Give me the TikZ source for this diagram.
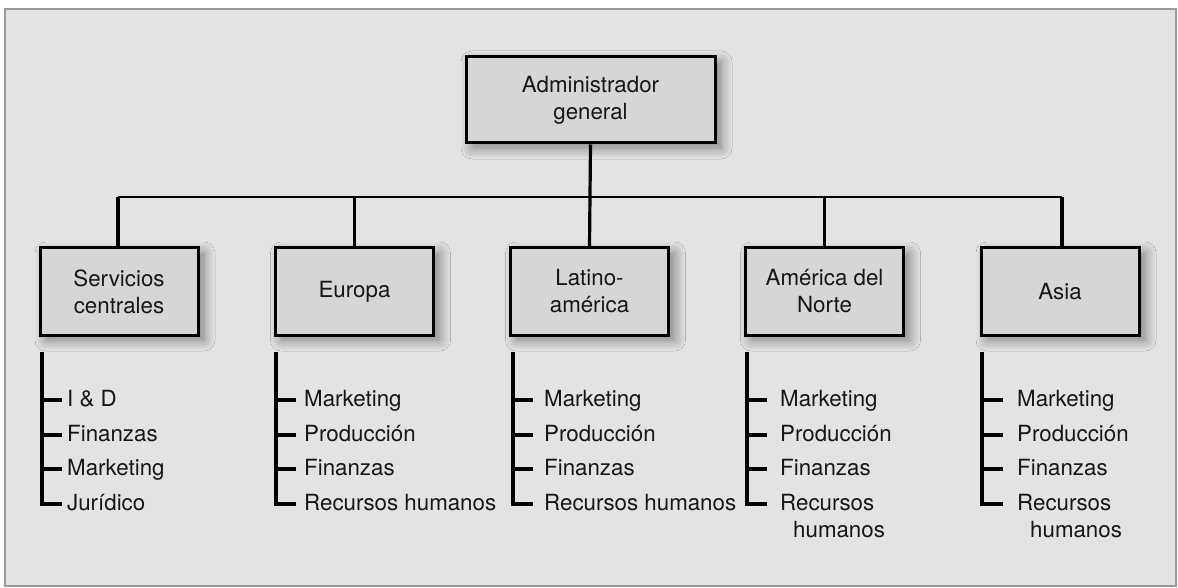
\documentclass[tikz,border=0pt]{standalone}
\usepackage{fontspec}
\setmainfont{TeX Gyre Heros}
\usetikzlibrary{shadows.blur}
\definecolor{bggray}{HTML}{E3E3E3}
\definecolor{framegray}{HTML}{9A9A9A}
\definecolor{boxfill}{HTML}{D6D6D6}
\definecolor{ink}{HTML}{161616}
\tikzset{
  box/.style={draw=black, line width=3pt, fill=boxfill, text=ink,
    minimum width=158pt, minimum height=87pt, align=center, inner sep=0pt,
    font=\fontsize{22.3}{27}\selectfont,
    blur shadow={shadow xshift=6pt, shadow yshift=-5pt, shadow blur radius=11pt, shadow blur steps=12, shadow opacity=45}},
  item/.style={anchor=base west, inner sep=0pt, text=ink, font=\fontsize{22.3}{27}\selectfont},
  drop/.style={draw=black, line width=3.2pt},
  bus/.style={draw=black, line width=2.4pt},
  lst/.style={draw=black, line width=3.2pt, line cap=butt, line join=miter},
}
\newcommand{\orglist}[9]{%
  \coordinate (#1t) at (#2,352);
  \node[item] (#11) at (#3,406) {#5};
  \node[item] (#12) at (#3,441) {#6};
  \node[item] (#13) at (#3,475) {#7};
  \node[item] (#14) at (#3,510) {#8};
  \draw[lst] (#1t) |- ([xshift=-#4pt, yshift=6pt]#14.base west);
  \foreach \k in {1,2,3}{\draw[lst] ([xshift=-#4pt, yshift=6pt]#1\k.base west) -- ++(-#9,0);}
}
\begin{document}
\begin{tikzpicture}[x=1pt, y=-1pt]
\useasboundingbox (0,0) rectangle (1178,588);
\fill[white] (0,0) rectangle (1178,588);
\draw[draw=framegray, line width=2.4pt, fill=bggray] (5,9) rectangle (1176,586);

% boxes
\node[box, minimum width=249pt, minimum height=86pt] (top) at (590.5,100) {Administrador\\general};
\node[box] (serv) at (119,291.5) {Servicios\\centrales};
\node[box] (eur)  at (354.5,291.5) {Europa};
\node[box] (lat)  at (589.5,291.5) {Latino-\\américa};
\node[box] (amn)  at (824.5,291.5) {América del\\Norte};
\node[box] (asia) at (1060,291.5) {Asia};

% bus
\coordinate (busL) at (118,197);
\coordinate (busR) at (1062,197);
\draw[bus] (busL) -- (busR);
\draw[drop] (top.south) -- (lat.north);
\draw[drop] (busL) -- (busL |- serv.north);
\draw[drop] (eur.north) -- (eur.north |- busL);
\draw[drop] (amn.north) -- (amn.north |- busL);
\draw[drop] (busR) -- (busR |- asia.north);

% lists
\orglist{s}{42}{67}{5}{I \& D}{Finanzas}{Marketing}{Jurídico}{20}
\orglist{e}{276}{304}{8}{Marketing}{Producción}{Finanzas}{Recursos humanos}{20}
\orglist{l}{513}{544}{11}{Marketing}{Producción}{Finanzas}{Recursos humanos}{20}
\orglist{a}{747}{780}{13}{Marketing}{Producción}{Finanzas}{\begin{tabular}[t]{@{}l@{}}Recursos\\\hspace{13pt}humanos\end{tabular}}{20}
\orglist{z}{982}{1017}{14}{Marketing}{Producción}{Finanzas}{\begin{tabular}[t]{@{}l@{}}Recursos\\\hspace{13pt}humanos\end{tabular}}{21}
\end{tikzpicture}
\end{document}
